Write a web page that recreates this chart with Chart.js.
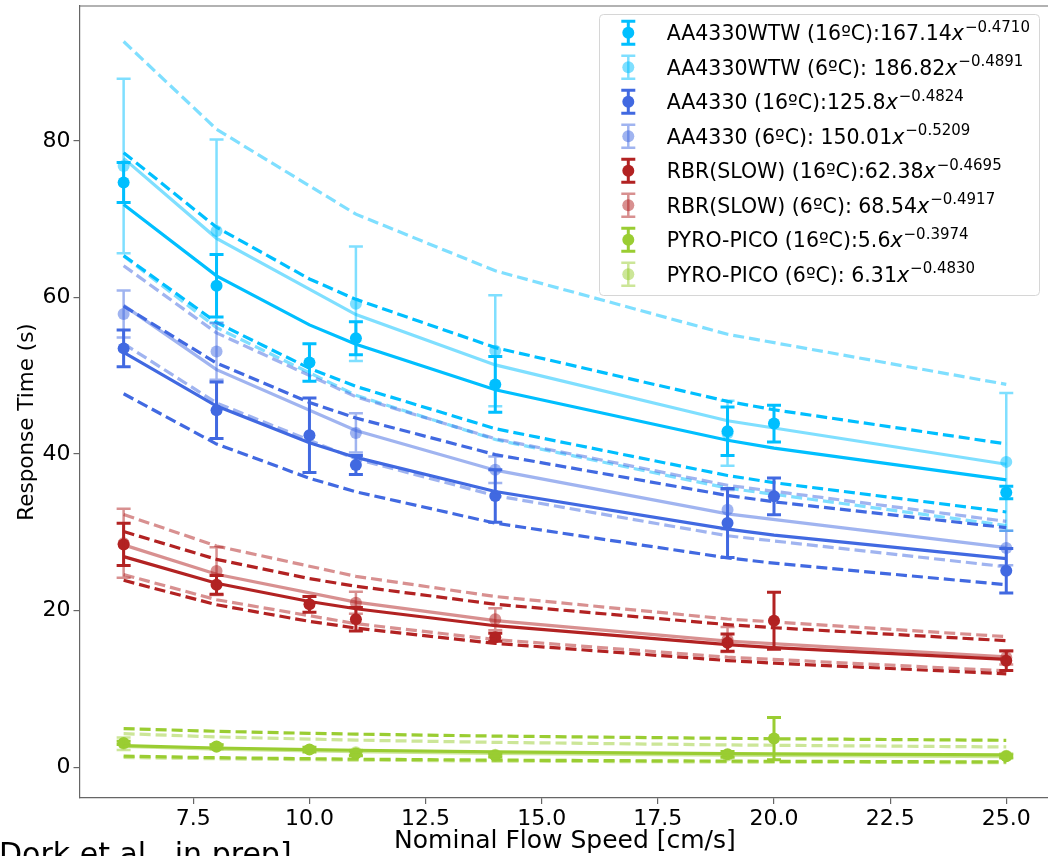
<!DOCTYPE html>
<html>
<head>
<meta charset="utf-8">
<script src="https://cdn.jsdelivr.net/npm/chart.js@4.4.1/dist/chart.umd.min.js"></script>
<style>
  html, body { margin: 0; padding: 0; background: #fff; overflow: hidden; }
  #wrap { position: absolute; left: 0; top: 0; width: 1048px; height: 856px; overflow: hidden; }
</style>
</head>
<body>
<div id="wrap"><canvas id="myChart" width="1062" height="856"></canvas></div>
<script>
// flow speeds (cm/s) of the 16ºC and 6ºC runs
const speed16 = [6, 8, 10, 11, 14, 19, 20, 25];
const speed6 = [6, 8, 11, 14, 19, 25];

const xTicks = [7.5, 10, 12.5, 15, 17.5, 20, 22.5, 25];
const yTicks = [0, 20, 40, 60, 80];

// AA4330WTW
const wtw16Mean = [74.7, 61.5, 51.7, 54.8, 48.9, 42.9, 43.9, 35.1];
const wtw16Err = [2.55, 4.0, 2.4, 2.1, 3.55, 3.1, 2.35, 0.8];
const wtw16Fit = [71.87, 62.77, 56.5, 54.02, 48.22, 41.76, 40.76, 36.7];
const wtw16Hi = [78.5, 68.97, 62.37, 59.76, 53.6, 46.73, 45.66, 41.3];
const wtw16Lo = [65.35, 56.8, 50.95, 48.64, 43.24, 37.26, 36.34, 32.6];

const wtw6Mean = [76.8, 68.5, 59.2, 53.2, 42.65, 39.0];
const wtw6Err = [11.15, 11.7, 7.3, 7.1, 4.15, 8.8];
const wtw6Fit = [77.77, 67.56, 57.82, 51.39, 44.26, 38.7];
const wtw6Hi = [92.7, 81.49, 70.65, 63.41, 55.3, 48.9];
const wtw6Lo = [65.3, 56.15, 47.5, 41.85, 35.65, 30.87];

// AA4330
const aa16Mean = [53.5, 45.6, 42.4, 38.6, 34.65, 31.2, 34.6, 25.1];
const aa16Err = [2.35, 3.6, 4.75, 1.2, 3.35, 4.4, 2.35, 2.85];
const aa16Fit = [53.0, 46.13, 41.43, 39.57, 35.22, 30.4, 29.65, 26.63];
const aa16Hi = [58.9, 51.62, 46.59, 44.6, 39.93, 34.71, 33.9, 30.6];
const aa16Lo = [47.7, 41.28, 36.91, 35.18, 31.17, 26.74, 26.06, 23.3];

const aa6Mean = [57.9, 53.1, 42.7, 38.0, 32.9, 28.0];
const aa6Err = [3.0, 3.6, 2.5, 1.7, 2.5, 2.2];
const aa6Fit = [58.99, 50.78, 43.02, 37.94, 32.36, 28.05];
const aa6Hi = [64.06, 55.48, 47.32, 41.95, 36.01, 31.4];
const aa6Lo = [54.1, 46.53, 39.37, 34.69, 29.56, 25.6];

// RBR(SLOW)
const rbr16Mean = [28.45, 23.3, 20.8, 18.9, 16.6, 15.9, 18.7, 13.6];
const rbr16Err = [2.7, 1.2, 1.0, 1.5, 0.5, 1.1, 3.65, 1.25];
const rbr16Fit = [26.9, 23.5, 21.16, 20.24, 18.07, 15.66, 15.28, 13.76];
const rbr16Hi = [30.1, 26.55, 24.09, 23.11, 20.81, 18.21, 17.81, 16.16];
const rbr16Lo = [23.87, 20.75, 18.62, 17.77, 15.81, 13.62, 13.29, 11.92];

const rbr6Mean = [28.6, 25.05, 21.0, 18.9, 16.3, 14.0];
const rbr6Err = [4.4, 3.05, 1.4, 1.4, 1.6, 0.9];
const rbr6Fit = [28.4, 24.65, 21.08, 18.72, 16.11, 14.08];
const rbr6Hi = [32.27, 28.25, 24.38, 21.8, 18.93, 16.67];
const rbr6Lo = [24.6, 21.39, 18.33, 16.3, 14.05, 12.3];

// PYRO-PICO
const pyro16Mean = [3.1, 2.65, 2.25, 1.75, 1.5, 1.65, 3.65, 1.4];
const pyro16Err = [0.2, 0.2, 0.3, 0.3, 0.2, 0.35, 2.7, 0.2];
const pyro16Fit = [2.75, 2.45, 2.24, 2.16, 1.96, 1.74, 1.7, 1.56];
const pyro16Hi = [4.92, 4.58, 4.32, 4.22, 3.97, 3.68, 3.63, 3.43];
const pyro16Lo = [1.4, 1.21, 1.08, 1.02, 0.9, 0.77, 0.75, 0.67];

const pyro6Mean = [3.0, 2.6, 1.9, 1.6, 1.5, 1.45];
const pyro6Err = [0.8, 0.3, 0.3, 0.2, 0.3, 0.3];
const pyro6Fit = [2.66, 2.31, 1.98, 1.76, 1.52, 1.33];
const pyro6Hi = [4.28, 3.86, 3.45, 3.17, 2.84, 2.58];
const pyro6Lo = [1.25, 1.07, 0.9, 0.78, 0.66, 0.57];

const legendText = ['AA4330WTW (16ºC):167.14', 'AA4330WTW (6ºC): 186.82', 'AA4330 (16ºC):125.8', 'AA4330 (6ºC): 150.01',
  'RBR(SLOW) (16ºC):62.38', 'RBR(SLOW) (6ºC): 68.54', 'PYRO-PICO (16ºC):5.6', 'PYRO-PICO (6ºC): 6.31'];
const legendExp = ['\u22120.4710', '\u22120.4891', '\u22120.4824', '\u22120.5209', '\u22120.4695', '\u22120.4917', '\u22120.3974', '\u22120.4830'];

const series = [
  {xs: speed16, mean: wtw16Mean, err: wtw16Err, fit: wtw16Fit, hi: wtw16Hi, lo: wtw16Lo, color: 'rgb(0,191,255)', light: false},
  {xs: speed6, mean: wtw6Mean, err: wtw6Err, fit: wtw6Fit, hi: wtw6Hi, lo: wtw6Lo, color: 'rgba(0,191,255,0.5)', light: true},
  {xs: speed16, mean: aa16Mean, err: aa16Err, fit: aa16Fit, hi: aa16Hi, lo: aa16Lo, color: 'rgb(65,105,225)', light: false},
  {xs: speed6, mean: aa6Mean, err: aa6Err, fit: aa6Fit, hi: aa6Hi, lo: aa6Lo, color: 'rgba(65,105,225,0.5)', light: true},
  {xs: speed16, mean: rbr16Mean, err: rbr16Err, fit: rbr16Fit, hi: rbr16Hi, lo: rbr16Lo, color: 'rgb(178,34,34)', light: false},
  {xs: speed6, mean: rbr6Mean, err: rbr6Err, fit: rbr6Fit, hi: rbr6Hi, lo: rbr6Lo, color: 'rgba(178,34,34,0.5)', light: true},
  {xs: speed16, mean: pyro16Mean, err: pyro16Err, fit: pyro16Fit, hi: pyro16Hi, lo: pyro16Lo, color: 'rgb(154,205,50)', light: false},
  {xs: speed6, mean: pyro6Mean, err: pyro6Err, fit: pyro6Fit, hi: pyro6Hi, lo: pyro6Lo, color: 'rgba(154,205,50,0.5)', light: true}
];

function pts(xs, ys) {
  return xs.map((x, i) => ({x: x, y: ys[i]}));
}

function lineSet(s, ys, dashed) {
  return {
    data: pts(s.xs, ys), showLine: true, borderColor: s.color, borderWidth: 3.2,
    borderDash: dashed ? [11, 5] : [], pointRadius: 0, tension: 0, fill: false
  };
}

// drawing order bottom -> top; chart.js draws dataset 0 last, so reverse at the end
let drawOrder = [];
series.forEach(s => {
  drawOrder.push({
    data: pts(s.xs, s.mean), showLine: false, pointRadius: 6, pointBorderWidth: 0,
    pointBackgroundColor: s.color, backgroundColor: s.color, borderColor: s.color,
    errs: s.err, barWidth: s.light ? 2.5 : 3
  });
  drawOrder.push(lineSet(s, s.fit, false));
  drawOrder.push(lineSet(s, s.hi, true));
  drawOrder.push(lineSet(s, s.lo, true));
});
const datasets = drawOrder.reverse();

const errorBars = {
  id: 'errorBars',
  beforeDatasetDraw(chart, args) {
    const ds = chart.data.datasets[args.index];
    if (!ds.errs) return;
    const ctx = chart.ctx, x = chart.scales.x, y = chart.scales.y;
    ctx.save();
    ctx.strokeStyle = ds.pointBackgroundColor;
    ctx.lineWidth = ds.barWidth;
    ctx.beginPath();
    ds.data.forEach((p, i) => {
      const px = x.getPixelForValue(p.x);
      const top = y.getPixelForValue(p.y + ds.errs[i]);
      const bot = y.getPixelForValue(p.y - ds.errs[i]);
      ctx.moveTo(px, top); ctx.lineTo(px, bot);
      ctx.moveTo(px - 7, top); ctx.lineTo(px + 7, top);
      ctx.moveTo(px - 7, bot); ctx.lineTo(px + 7, bot);
    });
    ctx.stroke();
    ctx.restore();
  }
};

const extras = {
  id: 'extras',
  afterDraw(chart) {
    const ctx = chart.ctx, a = chart.chartArea;
    ctx.save();
    // top spine
    ctx.strokeStyle = '#666';
    ctx.lineWidth = 1.2;
    ctx.beginPath();
    ctx.moveTo(a.left, a.top); ctx.lineTo(a.right, a.top);
    ctx.stroke();

    // y axis title, placed like the original figure
    ctx.save();
    ctx.translate(27, 422);
    ctx.rotate(-Math.PI / 2);
    ctx.font = '21.5px "DejaVu Sans"';
    ctx.fillStyle = '#000';
    ctx.textAlign = 'center';
    ctx.textBaseline = 'middle';
    ctx.fillText('Response Time (s)', 0, 0);
    ctx.restore();

    // legend frame
    const bx = 599.5, by = 14.5, bw = 440, bh = 281, r = 4;
    ctx.beginPath();
    ctx.moveTo(bx + r, by);
    ctx.arcTo(bx + bw, by, bx + bw, by + bh, r);
    ctx.arcTo(bx + bw, by + bh, bx, by + bh, r);
    ctx.arcTo(bx, by + bh, bx, by, r);
    ctx.arcTo(bx, by, bx + bw, by, r);
    ctx.closePath();
    ctx.fillStyle = 'rgba(255,255,255,0.8)';
    ctx.fill();
    ctx.strokeStyle = '#d6d6d6';
    ctx.lineWidth = 1;
    ctx.stroke();

    legendText.forEach((t, i) => {
      const s = series[i];
      const cy = 32.7 + i * 34.5, cx = 628.3;
      ctx.strokeStyle = s.color;
      ctx.lineWidth = s.light ? 2.5 : 3;
      ctx.beginPath();
      ctx.moveTo(cx, cy - 11.5); ctx.lineTo(cx, cy + 11.5);
      ctx.moveTo(cx - 7, cy - 11.5); ctx.lineTo(cx + 7, cy - 11.5);
      ctx.moveTo(cx - 7, cy + 11.5); ctx.lineTo(cx + 7, cy + 11.5);
      ctx.stroke();
      ctx.fillStyle = s.color;
      ctx.beginPath();
      ctx.arc(cx, cy, 6, 0, Math.PI * 2);
      ctx.fill();

      const base = cy + 7.6;
      let tx = 666.7;
      ctx.fillStyle = '#000';
      ctx.textBaseline = 'alphabetic';
      ctx.textAlign = 'left';
      ctx.font = '20.5px "DejaVu Sans"';
      ctx.fillText(t, tx, base);
      tx += ctx.measureText(t).width;
      ctx.font = 'italic 20.5px "DejaVu Sans"';
      ctx.fillText('x', tx, base);
      tx += ctx.measureText('x').width + 1;
      ctx.font = '15px "DejaVu Sans"';
      ctx.fillText(legendExp[i], tx, base - 8.6);
    });

    // citation, cut at the figure edge
    ctx.font = '30px "DejaVu Sans"';
    ctx.fillStyle = '#000';
    ctx.textAlign = 'left';
    ctx.textBaseline = 'alphabetic';
    ctx.fillText('Dork et al., in prep]', -1, 864);
    ctx.restore();
  }
};

const ctx = document.getElementById('myChart').getContext('2d');

const myChart = new Chart(ctx, {
  type: 'scatter',
  data: { datasets: datasets },
  options: {
    responsive: false,
    animation: false,
    layout: { padding: { left: 0, right: 11.6, top: -3, bottom: 0 } },
    plugins: { legend: { display: false }, tooltip: { enabled: false } },
    scales: {
      x: {
        type: 'linear', min: 5.05, max: 25.95,
        afterBuildTicks: s => { s.ticks = xTicks.map(v => ({value: v})); },
        afterFit: s => { s.height = 58; s.paddingLeft = 0; s.paddingRight = 0; },
        ticks: { font: { family: 'DejaVu Sans', size: 22 }, color: '#000', padding: 2, maxRotation: 0, autoSkip: false,
          callback: v => Number(v).toFixed(1) },
        grid: { display: true, drawOnChartArea: false, drawTicks: true, tickLength: 6, color: '#666', lineWidth: 1.2 },
        border: { display: true, color: '#666', width: 1.2 },
        title: { display: true, text: 'Nominal Flow Speed [cm/s]', font: { family: 'DejaVu Sans', size: 25 }, color: '#000',
          padding: { top: 0, bottom: 0 } }
      },
      y: {
        type: 'linear', min: -3.94, max: 97.24,
        afterBuildTicks: s => { s.ticks = yTicks.map(v => ({value: v})); },
        afterFit: s => { s.width = 79.5; s.paddingTop = 0; s.paddingBottom = 0; },
        ticks: { font: { family: 'DejaVu Sans', size: 22 }, color: '#000', padding: 3, autoSkip: false,
          callback: v => String(v) },
        grid: { display: true, drawOnChartArea: false, drawTicks: true, tickLength: 6, color: '#666', lineWidth: 1.2 },
        border: { display: true, color: '#666', width: 1.2 },
        title: { display: false }
      }
    }
  },
  plugins: [errorBars, extras]
});
</script>
</body>
</html>
